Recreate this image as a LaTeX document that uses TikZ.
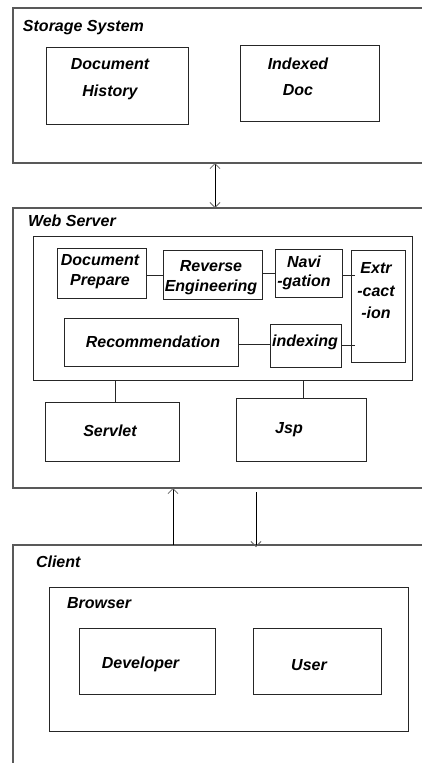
\documentclass[tikz,border=0pt]{standalone}
\usepackage{fontspec}
\setmainfont{Liberation Sans}
\usetikzlibrary{arrows.meta}
\begin{document}
\begin{tikzpicture}[x=1pt,y=-1pt,
  obox/.style={draw=black!65,line width=1.3pt,inner sep=0pt,outer sep=0pt},
  ibox/.style={draw=black!85,line width=1pt,inner sep=0pt,outer sep=0pt},
  lbl/.style={inner sep=0pt,outer sep=0pt,align=center,font=\fontsize{16}{#1}\selectfont\bfseries\itshape},
  lbl/.default=19,
  conn/.style={draw=black!85,line width=0.9pt},
  arr/.style={draw=black,line width=0.9pt,arrows={-Straight Barb[length=5pt,width=10pt,line width=0.8pt,color=black!60]}},
  darr/.style={draw=black,line width=0.9pt,arrows={Straight Barb[length=5pt,width=10pt,line width=0.8pt,color=black!60]-Straight Barb[length=5pt,width=10pt,line width=0.8pt,color=black!60]}}
]
\useasboundingbox (0,0) rectangle (422,763);
\fill[white] (0,0) rectangle (422,763);

% outer containers
\node[obox,minimum width=417pt,minimum height=155pt] (storage) at (221.5,85.5) {};
\node[obox,minimum width=417pt,minimum height=280pt] (web) at (221.5,348) {};
\node[obox,minimum width=417pt,minimum height=235pt] (client) at (221.5,662.5) {};

% storage
\node[lbl,anchor=base west] (tstorage) at (23,31) {Storage System};
\node[ibox,minimum width=142pt,minimum height=77pt] (dochist) at (117,85.5) {};
\node[lbl=27] (tdochist) at (110,79) {Document\\History};
\node[ibox,minimum width=139pt,minimum height=76pt] (idxdoc) at (309.5,83) {};
\node[lbl=26] (tidxdoc) at (298,77) {Indexed\\Doc};

% web server
\node[lbl,anchor=base west] (tweb) at (28,226) {Web Server};
\node[ibox,minimum width=379pt,minimum height=144pt] (inner) at (222.5,308) {};
\node[ibox,minimum width=89pt,minimum height=50pt] (docprep) at (101.5,273) {};
\node[lbl=20] (tdocprep) at (100,272) {Document\\Prepare};
\node[ibox,minimum width=99pt,minimum height=49pt] (reveng) at (212.5,274.5) {};
\node[lbl=20] (treveng) at (211,278) {Reverse\\Engineering};
\node[ibox,minimum width=67pt,minimum height=48pt] (nav) at (308.5,273) {};
\node[lbl=19] (tnav) at (304,272.5) {Navi\\-gation};
\node[ibox,minimum width=54pt,minimum height=112pt] (extr) at (378,306) {};
\node[lbl=22.5] (textr) at (376,291) {Extr\\-cact\\-ion};
\node[ibox,minimum width=174pt,minimum height=48pt] (recom) at (151,342) {};
\node[lbl,anchor=base] (trecom) at (153,347) {Recommendation};
\node[ibox,minimum width=71pt,minimum height=43pt] (idx) at (305.5,345.5) {};
\node[lbl,anchor=base] (tidx) at (305,346) {indexing};
\node[ibox,minimum width=134pt,minimum height=59pt] (servlet) at (112,431.5) {};
\node[lbl,anchor=base] (tservlet) at (110,436) {Servlet};
\node[ibox,minimum width=130pt,minimum height=63pt] (jsp) at (301,429.5) {};
\node[lbl,anchor=base] (tjsp) at (289,433) {Jsp};

% client
\node[lbl,anchor=base west] (tclient) at (36,567) {Client};
\node[ibox,minimum width=359pt,minimum height=144pt] (browser) at (228.5,659) {};
\node[lbl,anchor=base west] (tbrowser) at (67,608) {Browser};
\node[ibox,minimum width=136pt,minimum height=66pt] (dev) at (147,661) {};
\node[lbl,anchor=base] (tdev) at (140.5,668) {Developer};
\node[ibox,minimum width=128pt,minimum height=66pt] (user) at (317,661) {};
\node[lbl,anchor=base] (tuser) at (309,670) {User};

% internal connectors
\draw[conn] ([yshift=-2pt]docprep.east) -- ([yshift=-2pt]docprep.east -| reveng.west);
\draw[conn] (nav.west -| reveng.east) -- (nav.west);
\draw[conn] ([yshift=-2pt]nav.east) -- ([xshift=4pt,yshift=-2pt]nav.east -| extr.west);
\draw[conn] ([yshift=-2pt]recom.east) -- ([yshift=-2pt]recom.east -| idx.west);
\draw[conn] (idx.east) -- ([xshift=4pt]idx.east -| extr.west);
\draw[conn] ([xshift=3pt]servlet.north) -- ([xshift=3pt]servlet.north |- inner.south);
\draw[conn] ([xshift=2pt]jsp.north) -- ([xshift=2pt]jsp.north |- inner.south);

% arrows between tiers
\draw[darr] ([xshift=-6.5pt]storage.south) -- ([xshift=-6.5pt]web.north);
\draw[arr] ([xshift=-48.5pt]client.north) -- ([xshift=-48.5pt]web.south);
\draw[arr] ([xshift=34.5pt,yshift=-4pt]web.south) -- ([xshift=34.5pt,yshift=-2pt]client.north);
\end{tikzpicture}
\end{document}
